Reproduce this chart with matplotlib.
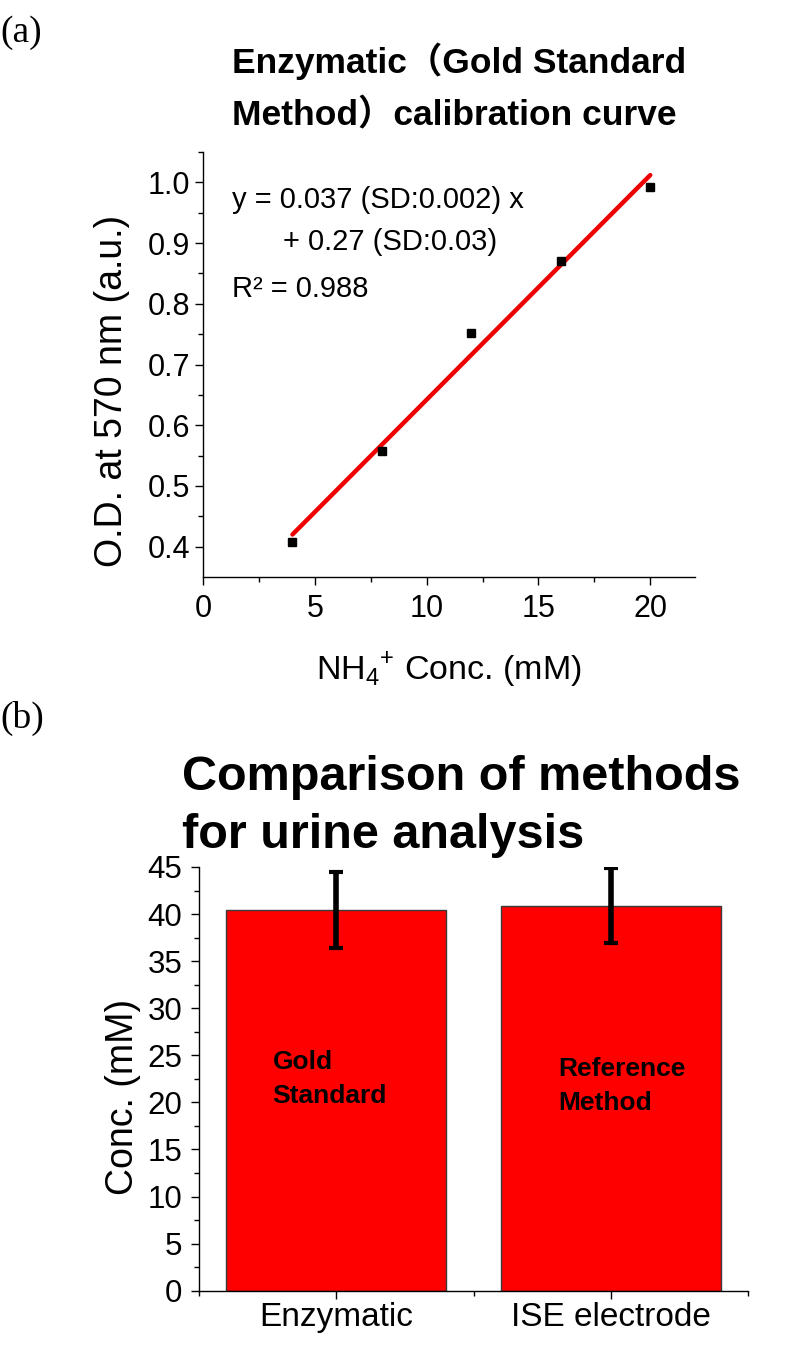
import numpy as np
import matplotlib
matplotlib.use("Agg")
import matplotlib.pyplot as plt
from matplotlib.ticker import MultipleLocator, FixedLocator

plt.rcParams['font.family'] = ['Liberation Sans', 'Noto Sans CJK SC', 'DejaVu Sans']

# (a) calibration data
conc = [4, 8, 12, 16, 20]
od = [0.408, 0.558, 0.752, 0.870, 0.992]
eq_lines = ['y = 0.037 (SD:0.002) x', '+ 0.27 (SD:0.03)', 'R\u00b2 = 0.988']

# (b) method comparison
methods = ['Enzymatic', 'ISE electrode']
means = [40.45, 40.9]
sds = [4.0, 4.0]
bar_notes = [('Gold', 'Standard'), ('Reference', 'Method')]

W, H = 791, 1350
fig = plt.figure(figsize=(W / 100, H / 100), dpi=100)


def fx(px):
    return px / W


def fy(py):
    return 1 - py / H


# ---------- panel (a) ----------
ax1 = fig.add_axes([fx(203), fy(577), fx(695) - fx(203), fy(152) - fy(577)])
ax1.plot(conc, od, 's', color='black', ms=5.5, zorder=3)
slope, icpt = np.polyfit(conc, od, 1)
xf = np.array([conc[0], conc[-1]])
ax1.plot(xf, slope * xf + icpt, color='#ee0000', lw=3.2, solid_capstyle='round', zorder=2)

ax1.set_xlim(0, 22)
ax1.set_ylim(0.35, 1.05)
ax1.xaxis.set_major_locator(FixedLocator([0, 5, 10, 15, 20]))
ax1.xaxis.set_minor_locator(FixedLocator([2.5, 7.5, 12.5, 17.5]))
ax1.yaxis.set_major_locator(FixedLocator([0.4, 0.5, 0.6, 0.7, 0.8, 0.9, 1.0]))
ax1.yaxis.set_minor_locator(FixedLocator([0.45, 0.55, 0.65, 0.75, 0.85, 0.95, 1.05]))
ax1.yaxis.set_major_formatter(plt.FormatStrFormatter('%.1f'))
for s in ['top', 'right']:
    ax1.spines[s].set_visible(False)
for s in ['left', 'bottom']:
    ax1.spines[s].set_linewidth(1.0)
ax1.tick_params(which='major', direction='out', length=6, width=1, labelsize=22)
ax1.tick_params(which='minor', direction='out', length=3.5, width=1)
ax1.tick_params(axis='y', which='major', pad=3)
ax1.tick_params(axis='x', which='major', pad=6)

ax1.set_xlabel(r'NH$_\mathregular{4}$$^\mathregular{+}$ Conc. (mM)', fontsize=24.5)
ax1.xaxis.set_label_coords(0.5, -0.172)
ax1.set_ylabel('O.D. at 570 nm (a.u.)', fontsize=27)
ax1.yaxis.set_label_coords(-0.148, 0.438)

fig.text(0, fy(42), '(a)', family='Liberation Serif', fontsize=27, va='baseline')
fig.text(fx(232), fy(73), 'Enzymatic\uff08Gold Standard', fontsize=25.5, weight='bold', va='baseline')
fig.text(fx(232), fy(125), 'Method\uff09calibration curve', fontsize=25.5, weight='bold', va='baseline')

fig.text(fx(232), fy(208), eq_lines[0], fontsize=21, va='baseline')
fig.text(fx(283), fy(250), eq_lines[1], fontsize=21, va='baseline')
fig.text(fx(232), fy(297), eq_lines[2], fontsize=21, va='baseline')

# ---------- panel (b) ----------
ax2 = fig.add_axes([fx(199), fy(1290.7), fx(748) - fx(199), fy(867) - fy(1290.7)])
x = np.arange(len(methods))
ax2.bar(x, means, width=0.8, color='#ff0000', edgecolor='#3a3a3a', linewidth=1, zorder=2)
ax2.errorbar(x, means, yerr=sds, fmt='none', ecolor='black', elinewidth=4,
             capsize=5, capthick=3, zorder=3)

ax2.set_xlim(-0.5, 1.5)
ax2.set_ylim(0, 45)
ax2.set_xticks(x)
ax2.set_xticklabels(methods)
ax2.xaxis.set_minor_locator(FixedLocator([-0.5, 0.5, 1.5]))
ax2.yaxis.set_major_locator(MultipleLocator(5))
ax2.yaxis.set_minor_locator(MultipleLocator(2.5))
for s in ['top', 'right']:
    ax2.spines[s].set_visible(False)
for s in ['left', 'bottom']:
    ax2.spines[s].set_linewidth(1.0)
ax2.tick_params(which='major', direction='out', length=6, width=1, labelsize=22.5)
ax2.tick_params(which='minor', direction='out', length=3.5, width=1)
ax2.tick_params(axis='y', which='major', pad=6)
ax2.tick_params(axis='x', which='major', labelsize=24, pad=2)

ax2.set_ylabel('Conc. (mM)', fontsize=27)
ax2.yaxis.set_label_coords(-0.105, 0.458)

# labels written inside the bars
ax2.text(x[0] - 0.232, 23.5, bar_notes[0][0], fontsize=19, weight='bold', va='baseline')
ax2.text(x[0] - 0.232, 19.9, bar_notes[0][1], fontsize=19, weight='bold', va='baseline')
ax2.text(x[1] - 0.192, 22.8, bar_notes[1][0], fontsize=19, weight='bold', va='baseline')
ax2.text(x[1] - 0.192, 19.2, bar_notes[1][1], fontsize=19, weight='bold', va='baseline')

fig.text(0, fy(728), '(b)', family='Liberation Serif', fontsize=27, va='baseline')
fig.text(fx(182), fy(790), 'Comparison of methods', fontsize=35, weight='bold', va='baseline')
fig.text(fx(182), fy(848), 'for urine analysis', fontsize=35, weight='bold', va='baseline')

fig.savefig('out.png', dpi=100)
